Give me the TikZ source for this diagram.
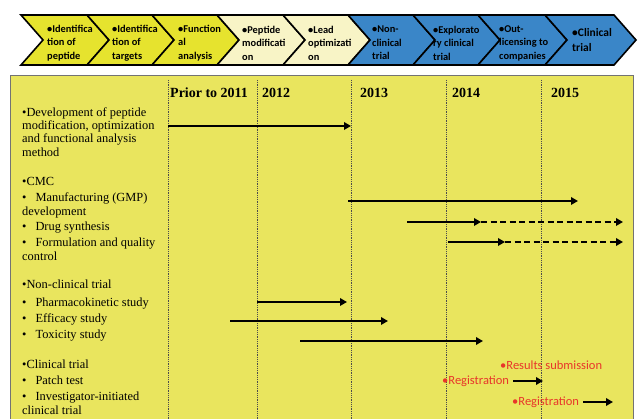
\documentclass[tikz,border=0pt]{standalone}
\usepackage{fontspec}
\setmainfont{Liberation Serif}
\newfontfamily\calib{Carlito}
\usetikzlibrary{arrows.meta}
\definecolor{chy}{HTML}{E6E32E}
\definecolor{chc}{HTML}{F8F4C6}
\definecolor{chb}{HTML}{3A86C8}
\definecolor{boxy}{HTML}{E9E55E}
\definecolor{redt}{HTML}{E8352A}
\begin{document}
\begin{tikzpicture}[x=1pt,y=-1pt,
 chev/.style={draw=black, line width=1.6pt, line join=miter},
 chtext/.style={font=\calib\fontsize{10.4}{13.5}\selectfont\bfseries, align=left, anchor=west, inner sep=0pt},
 lt/.style={font=\fontsize{12.4}{13}\selectfont, anchor=base west, inner sep=0pt},
 yr/.style={font=\fontsize{14}{16}\selectfont\bfseries, anchor=base west, inner sep=0pt},
 vline/.style={densely dotted, draw=black!70, line width=0.8pt},
 arr/.style={line width=2.2pt, -{Triangle[length=7pt,width=7.5pt]}},
 darr/.style={line width=2pt, dash pattern=on 6pt off 3.5pt, -{Triangle[length=7pt,width=7.5pt]}},
 rt/.style={font=\calib\fontsize{12.5}{14}\selectfont, text=redt, anchor=base west, inner sep=0pt}]
\useasboundingbox (0,0) rectangle (640,419);
\fill[white] (0,0) rectangle (640,419);
% chevrons
\foreach \l/\r/\c in {21/87/chy, 87/152/chy, 152/217/chy, 217/283/chc, 283/348/chc, 348/413/chb, 413/478/chb, 478/545/chb, 545/614/chb}
  \filldraw[chev, fill=\c] (\l,15) -- (\r,15) -- (\r+22,40) -- (\r,65) -- (\l,65) -- (\l+22,40) -- cycle;
\node[chtext] (c1) at (47,43) {•Identifica\\tion of\\peptide};
\node[chtext] (c2) at (112,43) {•Identifica\\tion of\\targets};
\node[chtext] (c3) at (178,43) {•Function\\al\\analysis};
\node[chtext] (c4) at (242,43) {•Peptide\\modificati\\on};
\node[chtext] (c5) at (308,43) {•Lead\\optimizati\\on};
\node[chtext] (c6) at (372,43) {•Non-\\clinical\\trial};
\node[chtext] (c7) at (433,43) {•Explorato\\ry clinical\\trial};
\node[chtext] (c8) at (499,43) {•Out-\\licensing to\\companies};
\node[chtext, font=\calib\fontsize{11.5}{15}\selectfont\bfseries] (c9) at (572,40) {•Clinical\\trial};
% main box
\draw[draw=black!55, fill=boxy, line width=0.8pt] (10,75) rectangle (633,430);
\foreach \x in {168,257,351,446,541}
  \draw[vline] (\x,80) -- (\x,419);
% years
\node[yr] (y0) at (170,98) {Prior to 2011};
\node[yr] (y1) at (262,98) {2012};
\node[yr] (y2) at (360,98) {2013};
\node[yr] (y3) at (452,98) {2014};
\node[yr] (y4) at (551,98) {2015};
% left texts
\node[lt] (t1) at (22,117) {•Development of peptide};
\node[lt] (t2) at (22,130) {modification, optimization};
\node[lt] (t3) at (22,143) {and functional analysis};
\node[lt] (t4) at (22,157) {method};
\node[lt] (t5) at (22,186) {•CMC};
\node[lt] (t6) at (22,202) {•\hspace{9pt}Manufacturing (GMP)};
\node[lt] (t7) at (22,216) {development};
\node[lt] (t8) at (22,231) {•\hspace{9pt}Drug synthesis};
\node[lt] (t9) at (22,247) {•\hspace{9pt}Formulation and quality};
\node[lt] (t10) at (22,261) {control};
\node[lt] (t11) at (22,289) {•Non-clinical trial};
\node[lt] (t12) at (22,307) {•\hspace{9pt}Pharmacokinetic study};
\node[lt] (t13) at (22,323) {•\hspace{9pt}Efficacy study};
\node[lt] (t14) at (22,339) {•\hspace{9pt}Toxicity study};
\node[lt] (t15) at (22,369) {•Clinical trial};
\node[lt] (t16) at (22,385) {•\hspace{9pt}Patch test};
\node[lt] (t17) at (22,401) {•\hspace{9pt}Investigator-initiated};
\node[lt] (t18) at (22,415) {clinical trial};
% red texts
\node[rt] (r1) at (500,370) {•Results submission};
\node[rt] (r2) at (442,385) {•Registration};
\node[rt] (r3) at (512,406) {•Registration};
% arrow coordinates
\coordinate (a1s) at (168,126); \coordinate (a1e) at (351,126);
\coordinate (a2s) at (348,201); \coordinate (a2e) at (578,201);
\coordinate (a3s) at (407,222); \coordinate (a3m) at (481,222); \coordinate (a3e) at (623,222);
\coordinate (a4s) at (448,242); \coordinate (a4m) at (505,242); \coordinate (a4e) at (623,242);
\coordinate (a5s) at (257,302); \coordinate (a5e) at (347,302);
\coordinate (a6s) at (230,321); \coordinate (a6e) at (388,321);
\coordinate (a7s) at (300,341); \coordinate (a7e) at (483,341);
\coordinate (a8s) at (513,381); \coordinate (a8e) at (543,381);
\coordinate (a9s) at (583,402); \coordinate (a9e) at (613,402);
\draw[arr] (a1s) -- (a1e);
\draw[arr] (a2s) -- (a2e);
\draw[darr] (a3m) -- (a3e);
\draw[arr] (a3s) -- (a3m);
\draw[darr] (a4m) -- (a4e);
\draw[arr] (a4s) -- (a4m);
\draw[arr] (a5s) -- (a5e);
\draw[arr] (a6s) -- (a6e);
\draw[arr] (a7s) -- (a7e);
\draw[arr] (a8s) -- (a8e);
\draw[arr] (a9s) -- (a9e);
\end{tikzpicture}
\end{document}
